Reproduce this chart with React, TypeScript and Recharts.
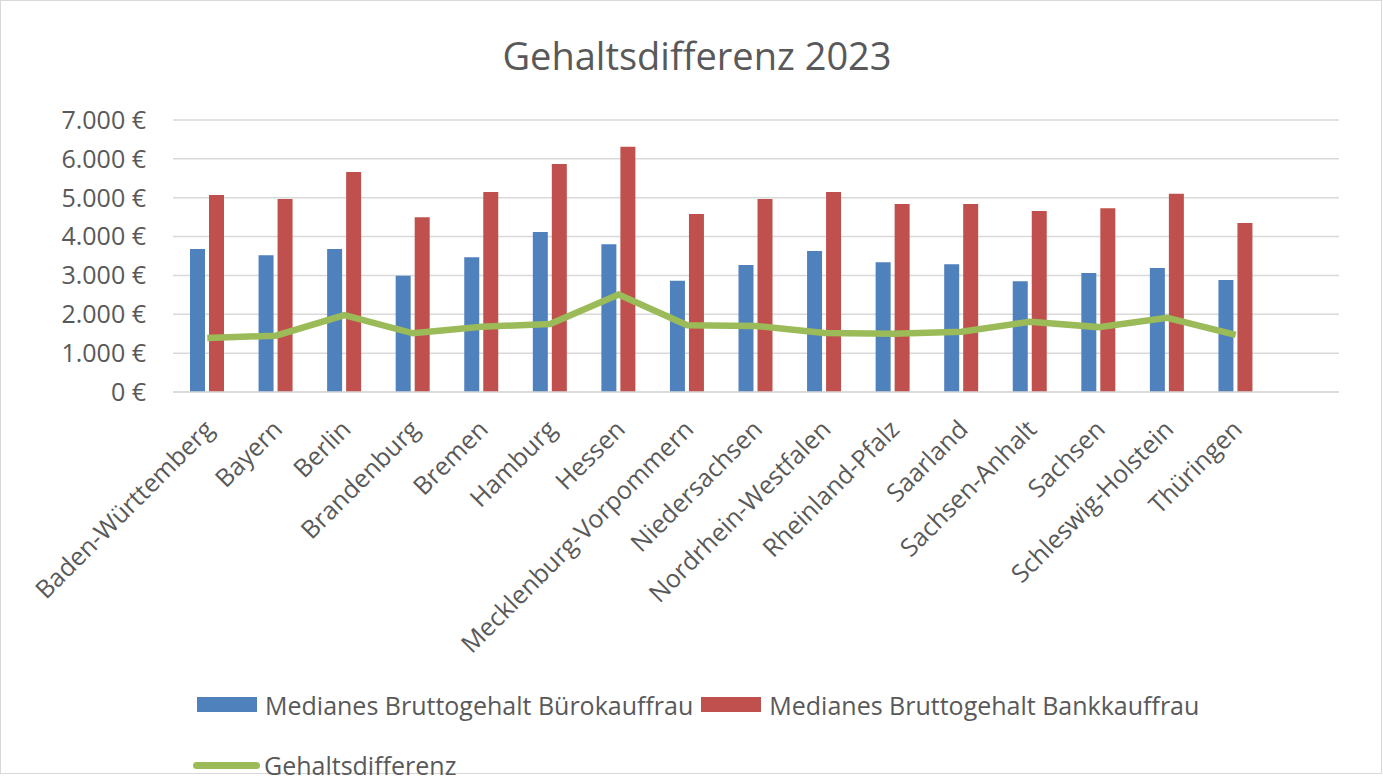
import React from "react"
import {
  ComposedChart,
  Bar,
  Line,
  XAxis,
  YAxis,
  CartesianGrid,
  Legend,
} from "recharts"

const LAENDER = [
  "Baden-Württemberg",
  "Bayern",
  "Berlin",
  "Brandenburg",
  "Bremen",
  "Hamburg",
  "Hessen",
  "Mecklenburg-Vorpommern",
  "Niedersachsen",
  "Nordrhein-Westfalen",
  "Rheinland-Pfalz",
  "Saarland",
  "Sachsen-Anhalt",
  "Sachsen",
  "Schleswig-Holstein",
  "Thüringen",
]

const BUERO = [3680, 3520, 3680, 2990, 3470, 4120, 3800, 2860, 3270, 3630, 3340, 3290, 2850, 3060, 3190, 2880]
const BANK = [5070, 4970, 5660, 4500, 5150, 5870, 6310, 4580, 4970, 5150, 4840, 4840, 4660, 4730, 5100, 4350]
const DIFF = [1390, 1450, 1980, 1510, 1680, 1750, 2510, 1720, 1700, 1520, 1500, 1550, 1810, 1670, 1910, 1470]

const Y_TICKS = [0, 1000, 2000, 3000, 4000, 5000, 6000, 7000]

const COLOR_BUERO = "#4f81bd"
const COLOR_BANK = "#c0504d"
const COLOR_DIFF = "#9bbb59"
const TEXT = "#595959"
const FONT = "'Open Sans', 'Noto Sans', sans-serif"

const data = LAENDER.map((name, i) => ({
  name,
  buero: BUERO[i],
  bank: BANK[i],
  diff: DIFF[i],
}))

function euro(v: number) {
  if (v === 0) return "0 €"
  const t = Math.floor(v / 1000)
  const r = String(v % 1000).padStart(3, "0")
  return `${t}.${r} €`
}

function XTick({ x, y, payload }: any) {
  const tx = x + 8
  const ty = y + 31
  return (
    <text
      x={tx}
      y={ty}
      transform={`rotate(-45, ${tx}, ${ty})`}
      textAnchor="end"
      fill={TEXT}
      fontSize={25}
      fontFamily={FONT}
    >
      {payload.value}
    </text>
  )
}

function LegendContent() {
  const item = (color: string, label: string, line = false) => (
    <span style={{ display: "inline-flex", alignItems: "center", marginRight: 8 }}>
      <span
        style={{
          display: "inline-block",
          width: line ? 67 : 60,
          height: line ? 7 : 15,
          borderRadius: line ? 4 : 0,
          background: color,
          marginRight: line ? 4 : 8,
          marginLeft: line ? -4 : 0,
        }}
      />
      {label}
    </span>
  )
  return (
    <div style={{ fontFamily: FONT, fontSize: 25, color: TEXT, lineHeight: "30px", whiteSpace: "nowrap" }}>
      <div>
        {item(COLOR_BUERO, "Medianes Bruttogehalt Bürokauffrau")}
        {item(COLOR_BANK, "Medianes Bruttogehalt Bankkauffrau")}
      </div>
      <div style={{ marginTop: 24 }}>{item(COLOR_DIFF, "Gehaltsdifferenz", true)}</div>
    </div>
  )
}

export default function App() {
  return (
    <div
      style={{
        position: "absolute",
        left: 0,
        top: 0,
        width: 1380,
        height: 772,
        border: "1px solid #d9d9d9",
        background: "#fff",
        fontFamily: FONT,
      }}
    >
      <div
        style={{
          position: "absolute",
          top: 33,
          left: 0,
          width: 1380,
          textAlign: "center",
          fontSize: 38,
          lineHeight: "42px",
          color: TEXT,
          paddingLeft: 6,
        }}
      >
        Gehaltsdifferenz 2023
      </div>
      <ComposedChart
        width={1380}
        height={772}
        data={data}
        margin={{ top: 119, right: 42, bottom: 0, left: 0 }}
        barGap={4}
        barCategoryGap="25%"
      >
        <CartesianGrid vertical={false} stroke="#d9d9d9" strokeWidth={1.5} />
        <XAxis
          dataKey="name"
          interval={0}
          tick={<XTick />}
          tickLine={false}
          axisLine={{ stroke: "#d9d9d9", strokeWidth: 1.5 }}
          padding={{ left: 0, right: 69 }}
          height={381}
        />
        <YAxis
          width={172}
          domain={[0, 7000]}
          ticks={Y_TICKS}
          tickFormatter={euro}
          axisLine={false}
          tickLine={false}
          tick={{ fill: TEXT, fontSize: 25, fontFamily: FONT }}
          tickMargin={21}
        />
        <Legend
          verticalAlign="bottom"
          content={<LegendContent />}
          wrapperStyle={{ left: 196, top: 686, width: 1150, height: 0, overflow: "visible" }}
        />
        <Bar dataKey="buero" fill={COLOR_BUERO} barSize={15} isAnimationActive={false} />
        <Bar dataKey="bank" fill={COLOR_BANK} barSize={15} isAnimationActive={false} />
        <Line
          dataKey="diff"
          stroke={COLOR_DIFF}
          strokeWidth={6.5}
          dot={false}
          type="linear"
          isAnimationActive={false}
        />
      </ComposedChart>
    </div>
  )
}
